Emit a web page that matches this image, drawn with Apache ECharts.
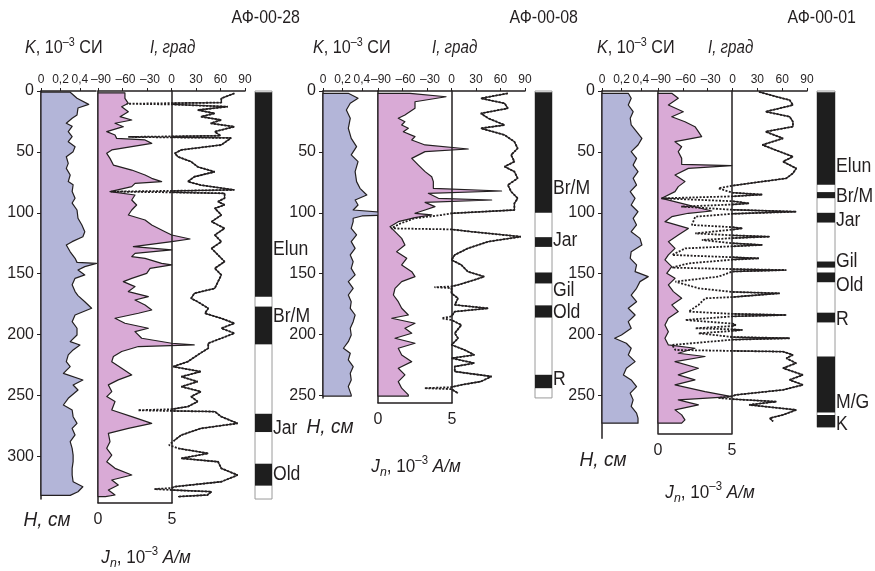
<!DOCTYPE html>
<html>
<head>
<meta charset="utf-8">
<script src="https://cdn.jsdelivr.net/npm/echarts@6/dist/echarts.min.js"></script>
<style>
html, body { margin: 0; padding: 0; background: #fff; }
#main { width: 875px; height: 571px; }
</style>
</head>
<body>
<div id="main"></div>
<script>
// ---- данные: [значение, глубина см] ----
var kTicks = [0, 0.2, 0.4];
var iTicks = [-90, -60, -30, 0, 30, 60, 90];
var jnTicks = [0, 5];
var depthTicks28 = [0, 50, 100, 150, 200, 250, 300];
var depthTicks08 = [0, 50, 100, 150, 200, 250];
var depthTicks01 = [0, 50, 100, 150, 200, 250];

// АФ-00-28
var k28 = [[0.30,1],[0.37,6],[0.49,11],[0.38,14],[0.37,19.7],[0.32,22.4],[0.26,26.5],[0.32,29],[0.28,33.4],[0.32,37.5],[0.28,41.6],[0.35,45.7],[0.33,49.8],[0.26,54],[0.28,59.4],[0.26,63.5],[0.30,69],[0.28,74.4],[0.33,77],[0.32,82.6],[0.35,88],[0.32,92],[0.37,97.7],[0.38,104.5],[0.42,110],[0.45,115.5],[0.43,119.6],[0.32,123.7],[0.26,126.4],[0.30,132],[0.35,137.4],[0.37,140.7],[0.57,141.5],[0.45,144.2],[0.38,147],[0.45,151],[0.35,153.8],[0.32,159],[0.35,164.7],[0.38,168],[0.45,173],[0.52,178.4],[0.35,183.9],[0.32,189.4],[0.37,194.8],[0.37,200.3],[0.30,205.8],[0.40,208.5],[0.33,212.6],[0.28,216.7],[0.26,222.2],[0.30,226.3],[0.23,231.8],[0.43,237.3],[0.33,241.4],[0.38,245.5],[0.28,252.3],[0.23,257.8],[0.32,261.9],[0.33,267.4],[0.37,272.9],[0.32,277],[0.35,282.4],[0.30,287.9],[0.32,293.4],[0.33,298.9],[0.33,304.3],[0.32,309.8],[0.32,315.3],[0.33,320.8],[0.43,324.9],[0.38,329],[0.30,332]];
var jn28 = [[1.82,1.5],[1.82,6],[2.05,10.1],[1.60,12.9],[2.05,17],[1.49,21.1],[2.28,23.8],[1.15,26.5],[1.71,29.3],[0.59,33.4],[1.15,36.1],[1.26,38.9],[3.18,40.2],[3.63,43],[2.28,45.7],[0.93,48.4],[0.59,51.2],[0.81,55.3],[1.04,60.8],[2.28,64.9],[3.18,69],[3.63,71.7],[4.30,74.4],[2.50,75.8],[2.28,78.5],[0.81,82.6],[2.50,85.4],[2.28,89.5],[2.61,93.6],[2.28,97.7],[2.05,101.8],[3.18,105.9],[3.63,110],[4.53,115.5],[4.98,118.2],[6.22,121.5],[4.98,123.7],[2.39,127.8],[4.98,130.5],[2.50,133.3],[2.28,136],[3.18,137.4],[4.30,141.5],[4.98,142.8],[3.52,145.6],[3.29,149.7],[2.28,153.8],[1.71,156.5],[2.50,160.6],[2.05,164.7],[3.40,168.8],[2.50,171.6],[3.18,175.7],[3.63,179.8],[2.73,182.5],[1.15,186.6],[1.82,190.7],[3.40,194.8],[2.50,197.5],[2.95,203],[4.98,207.1],[6.5,208.5],[2.73,209.8],[1.60,213.9],[1.04,218],[0.93,222.2],[1.60,227.6],[2.28,233.1],[1.37,237.2],[0.70,241.3],[0.93,246.8],[0.59,250.9],[1.15,255],[0.93,261.9],[2.28,267.4],[3.63,272.9],[2.05,277],[0.70,281.1],[0.81,287.9],[0.59,293.4],[0.93,298.9],[0.59,304.4],[1.15,309.8],[2.28,315.3],[0.93,319.4],[1.37,323.5],[0.70,327.6],[1.15,331.7],[0.5,333]];
var inc28 = [[77,1.9],[61,6],[61,9.5],[0,10],[-55,10.5],[0,11],[69,12.9],[32,15.6],[53,18.4],[36,21.1],[61,23.8],[48,26.5],[77,29.3],[53,33.4],[60,36.7],[0,37.3],[-53,37.7],[0,38.1],[73,38.5],[61,44.3],[12,48.4],[4,51.2],[8,54],[24,58],[32,62.2],[53,66.3],[28,70.4],[20,74.4],[36,77.2],[77,81.2],[0,82],[-74,82.6],[0,83.2],[65,84],[65,88],[57,90.8],[65,93.5],[53,96.3],[61,101.8],[49,107.3],[57,110],[65,112.8],[53,118.2],[61,123.7],[49,129.2],[57,134.6],[65,140.1],[53,145.6],[61,151],[57,156.5],[53,162],[28,166.1],[24,170.2],[32,173],[45,178.4],[41,182.5],[61,186.6],[77,190.7],[61,194.8],[77,198.9],[61,203],[45,207.1],[45,211.2],[32,216.7],[20,222.2],[2,226.3],[36,230.4],[12,234.5],[32,238.6],[12,242.7],[36,246.8],[24,250.9],[32,255],[20,259.1],[0,261.3],[-41,262.1],[0,262.7],[53,263.2],[61,267.4],[81,272.9],[36,277],[12,282.5],[4,286.6],[-3,290.7],[8,293.4],[45,297.5],[12,301.6],[57,304.4],[61,309.8],[81,315.3],[61,320.8],[4,324.9],[0,326],[-21,326.8],[0,327.6],[49,329],[44,331.7],[8,333]];
var pol28 = [[1,169],[177,208],[265,280],[306,324]];
var polEnd28 = 335;
var polName28 = ['Elun', 'Br/M', 'Jar', 'Old'];
var polAt28 = [130, 185, 277, 315];

// АФ-00-08
var k08 = [[0.26,1.9],[0.36,6],[0.28,10.1],[0.24,15.6],[0.28,22.4],[0.26,30.6],[0.29,38.9],[0.345,45.7],[0.29,52.5],[0.36,58],[0.33,66.2],[0.345,74.4],[0.38,79.9],[0.45,85.4],[0.33,89.5],[0.36,93.6],[0.31,97.7],[0.88,101.3],[0.40,102.6],[0.31,104.5],[0.31,107.3],[0.29,112.8],[0.345,118.2],[0.29,123.7],[0.33,129.2],[0.28,134.6],[0.31,140.1],[0.29,145.6],[0.33,151],[0.26,156.5],[0.31,162],[0.26,167.5],[0.29,173],[0.28,178.4],[0.33,183.9],[0.31,189.4],[0.28,194.8],[0.29,200.3],[0.26,205.8],[0.21,211.2],[0.28,215.3],[0.26,220.8],[0.31,226.3],[0.28,231.7],[0.29,237.2],[0.26,242.7],[0.29,249.5],[0.29,250.5]];
var jn08 = [[2.16,1.9],[4.6,4.7],[2.5,8.8],[2.5,14.2],[1.82,19.7],[1.37,22.4],[1.82,25.2],[1.6,27.9],[2.05,30.6],[1.71,33.4],[2.5,37.5],[2.28,40.2],[3.18,44.3],[6.1,47.6],[3.18,49.8],[2.28,55.3],[2.73,60.8],[3.18,66.2],[3.63,70.4],[3.74,74.4],[3.74,79.9],[8.35,82.1],[3.40,84],[4.08,88.1],[7.68,89.5],[3.18,91.4],[3.85,94.9],[3.18,97.7],[2.5,100.4],[3.63,101.7],[2.5,103.9],[1.37,107.3],[0.81,111.4],[1.15,115.5],[1.6,121],[1.82,126.4],[1.26,131.9],[1.94,137.4],[1.6,142.8],[2.28,148.3],[2.5,152.4],[1.6,156.5],[1.15,162],[1.04,167.5],[1.37,173],[1.6,178.4],[2.05,183.9],[0.93,186.6],[2.5,190.7],[1.82,194.8],[2.28,198.9],[1.15,203],[2.5,207.1],[1.37,211.2],[1.6,216.7],[2.28,222.2],[1.37,227.6],[1.82,233.1],[1.37,238.6],[1.6,244],[2.05,249.5],[2.05,250.5]];
var inc08 = [[69,1.9],[36,6],[65,10.1],[69,14.2],[36,18.4],[45,22.4],[65,27.9],[36,30.6],[65,36.1],[77,41.6],[81,47.1],[73,52.5],[77,58],[65,62.1],[77,66.2],[81,71.7],[69,77.2],[73,82.6],[81,88.1],[77,92.2],[77,97.7],[0,100.4],[-12,101.8],[-45,104.5],[-62,108.6],[-74,112.8],[0,113.6],[24,115.5],[85,119.6],[45,123.7],[20,129.2],[4,134.6],[0,138.7],[12,142.8],[20,148.3],[40,152.4],[28,155.1],[8,159.2],[0,160.5],[-21,161.1],[0,161.8],[0,166.1],[8,170.2],[4,175.6],[45,178.4],[4,181.1],[0,185],[-12,186.6],[0,188],[12,192.1],[4,198.9],[8,203],[0,208.5],[16,212.6],[28,216.7],[0,219.4],[28,223.5],[4,226.2],[4,230.3],[49,234.4],[36,238.5],[12,241.3],[0,243.2],[-33,244],[0,244.8],[8,248.1]];
var pol08 = [[1,100],[120,128],[149,158],[176,186],[233,244]];
var polEnd08 = 252;
var polName08 = ['Br/M', 'Jar', 'Gil', 'Old', 'R'];
var polAt08 = [80, 123, 164, 182, 237];

// АФ-00-01
var k01 = [[0.27,1.9],[0.30,6],[0.27,11.5],[0.32,17],[0.29,22.4],[0.30,27.9],[0.355,33.4],[0.41,38.9],[0.37,44.3],[0.30,49.8],[0.355,55.3],[0.32,60.8],[0.37,66.2],[0.32,71.7],[0.355,77.2],[0.29,82.6],[0.34,88.1],[0.30,93.6],[0.37,99.1],[0.32,104.5],[0.355,110],[0.30,115.5],[0.39,121],[0.41,126.4],[0.30,131.9],[0.29,137.4],[0.355,142.8],[0.34,148.3],[0.475,152.4],[0.39,156.5],[0.355,162],[0.30,167.5],[0.355,173],[0.27,178.4],[0.34,183.9],[0.27,189.4],[0.30,194.8],[0.20,200.3],[0.13,203],[0.25,207.1],[0.30,211.2],[0.27,216.7],[0.34,222.2],[0.25,227.6],[0.22,233.1],[0.30,237.2],[0.355,242.7],[0.29,248.1],[0.32,253.6],[0.30,259],[0.355,264.5],[0.37,268.6],[0.37,272.7]];
var jn01 = [[0.93,1.9],[1.37,6],[0.70,11.5],[1.71,17],[0.93,21.1],[1.82,25.2],[2.5,29.3],[2.73,33.4],[2.95,37.5],[1.15,41.6],[1.6,45.7],[1.37,49.8],[1.6,55.3],[1.6,60.2],[4.98,61.3],[2.05,63.5],[1.15,69],[1.82,74.4],[1.37,78.5],[1.15,82.6],[0.25,88.1],[1.6,92.2],[3.63,98.5],[2.05,100.4],[0.93,103.2],[0.47,107.3],[2.05,112.8],[1.37,118.2],[0.70,123.7],[1.15,129.2],[0.70,134.6],[0.47,138.7],[0.93,144.2],[0.59,149.7],[1.15,153.8],[0.70,159.2],[1.04,164.7],[1.6,170.2],[0.93,175.6],[1.37,181.1],[0.70,186.6],[0.47,192.1],[0.70,197.6],[0.47,203],[0.70,208.5],[2.5,211.2],[1.37,215.3],[3.18,218],[1.15,222.2],[2.73,227.6],[1.37,233.1],[2.5,237.2],[1.15,241.3],[3.18,246.8],[4.98,250.9],[1.37,253.6],[2.73,257.7],[1.15,261.8],[1.6,265.9],[1.82,270],[1.6,272.7]];
var inc01 = [[32,0.7],[53,4.7],[69,7.4],[73,11.5],[40,17],[69,21.1],[73,25.2],[73,29.3],[40,33.4],[61,38.9],[36,44.3],[57,49.8],[73,53.9],[61,58],[77,63.5],[73,67.6],[65,71.7],[20,75.8],[0,77.7],[-17,79.9],[0,83.5],[36,85],[0,86.5],[-86,88.1],[0,90.5],[20,92.2],[0,93.2],[-62,94.9],[0,97.5],[77,99.1],[0,100.8],[-45,103.2],[-49,110],[0,111.8],[12,112.8],[0,113.8],[-45,116.9],[0,118.5],[45,119.6],[0,120.8],[-37,122.3],[0,125],[36,126.4],[0,127.5],[-57,129.2],[-73,134.6],[0,136.5],[32,137.4],[0,138.5],[-53,141.5],[-73,145],[0,146.2],[65,147],[0,148.2],[-17,152.4],[-69,156.5],[-41,162],[0,165],[57,166.1],[16,168.3],[0,169.2],[-33,170.2],[-41,175.6],[-53,181.1],[0,183],[65,183.9],[0,185],[-57,188],[0,191],[4,192.1],[0,193],[-45,194.8],[0,195.7],[12,196.2],[0,197],[-41,198.9],[0,202],[69,203],[0,204.2],[-73,208.5],[-69,212.6],[0,213.4],[61,214],[73,216.7],[65,219.4],[77,223.5],[61,227.6],[85,233.1],[69,237.2],[85,241.3],[61,245.4],[4,249.5],[0,250.5],[-17,252],[0,253],[53,255],[20,257.7],[77,261.8],[61,265.9],[45,268.6],[49,271.3]];
var pol01 = [[1,77],[83,88],[100,108],[140,145],[149,157],[182,190],[218,264],[266,276]];
var polEnd01 = 276;
var polName01 = ['Elun', 'Br/M', 'Jar', 'Gil', 'Old', 'R', 'M/G', 'K'];
var polAt01 = [62, 87, 106, 140, 160, 188, 256, 274];

// ---- оформление ----
var S = 1.218;      // px на 1 см глубины
var TOP = 91;
var FONT = '"Liberation Sans", Arial, sans-serif';
var INK = '#231f20';
var K_FILL = '#b3b5d8';
var JN_FILL = '#d9aad6';

var panels = [
  { k: k28, jn: jn28, inc: inc28, pol: pol28, polEnd: polEnd28, names: polName28, at: polAt28, ticks: depthTicks28,
    x0: 41, kMax: 335, box: 98, boxMax: 338, iw: 147, polX: 255, polW: 17 },
  { k: k08, jn: jn08, inc: inc08, pol: pol08, polEnd: polEnd08, names: polName08, at: polAt08, ticks: depthTicks08,
    x0: 323, kMax: 252, box: 378, boxMax: 256, iw: 147, polX: 535, polW: 17 },
  { k: k01, jn: jn01, inc: inc01, pol: pol01, polEnd: polEnd01, names: polName01, at: polAt01, ticks: depthTicks01,
    x0: 602, kMax: 285, box: 658, boxMax: 281, iw: 149, polX: 817, polW: 18 }
];

var lineAx = { show: true, onZero: false, lineStyle: { color: INK, width: 1.5 } };

function profile(xi, yi, pts, fill) {
  return {
    type: 'custom', xAxisIndex: xi, yAxisIndex: yi, data: pts, clip: false, silent: true,
    renderItem: function (params, api) {
      if (params.dataIndex !== 0) return null;
      var poly = [api.coord([0, pts[0][1]])];
      for (var i = 0; i < pts.length; i++) poly.push(api.coord(pts[i]));
      poly.push(api.coord([0, pts[pts.length - 1][1]]));
      return { type: 'polygon', shape: { points: poly },
        style: { fill: fill, stroke: INK, lineWidth: 1.2, lineJoin: 'round' } };
    }
  };
}

var grids = [], xAxes = [], yAxes = [], series = [];

panels.forEach(function (p) {
  var g = grids.length, xi = xAxes.length, yi = yAxes.length;
  grids.push({ left: p.x0, top: TOP, width: 55, height: p.kMax * S });
  grids.push({ left: p.box, top: TOP, width: 74, height: p.boxMax * S });
  grids.push({ left: p.box, top: TOP, width: p.iw, height: p.boxMax * S });
  grids.push({ left: p.polX, top: TOP, width: p.polW, height: p.polEnd * S });

  // K
  xAxes.push({ gridIndex: g, type: 'value', position: 'top', min: 0, max: 0.565,
    axisLine: lineAx, splitLine: { show: false },
    axisTick: { customValues: kTicks, length: 3, lineStyle: { color: INK } },
    axisLabel: { customValues: kTicks, margin: 5, color: INK, fontFamily: FONT, fontSize: 12,
      formatter: function (v) { return String(v).replace('.', ','); } } });
  // Jn
  xAxes.push({ gridIndex: g + 1, type: 'value', position: 'bottom', min: 0, max: 5,
    axisLine: lineAx, splitLine: { show: false }, axisTick: { show: false },
    axisLabel: { customValues: jnTicks, margin: 9, color: INK, fontFamily: FONT, fontSize: 16 } });
  // I
  xAxes.push({ gridIndex: g + 2, type: 'value', position: 'top', min: -90, max: 90,
    axisLine: lineAx, splitLine: { show: false },
    axisTick: { customValues: iTicks, length: 3, lineStyle: { color: INK } },
    axisLabel: { customValues: iTicks, margin: 5, color: INK, fontFamily: FONT, fontSize: 12,
      formatter: function (v) { return v < 0 ? '{n|–' + (-v) + '}' : String(v); },
      rich: { n: { padding: [0, 0, 0, 6], color: INK, fontFamily: FONT, fontSize: 12 } } } });
  xAxes.push({ gridIndex: g + 3, type: 'value', min: 0, max: 1, show: false });

  yAxes.push({ gridIndex: g, type: 'value', inverse: true, min: 0, max: p.kMax, position: 'left',
    axisLine: lineAx, splitLine: { show: false },
    axisTick: { customValues: p.ticks, length: 4, lineStyle: { color: INK } },
    axisLabel: { customValues: p.ticks, margin: 7, color: INK, fontFamily: FONT, fontSize: 16 } });
  yAxes.push({ gridIndex: g + 1, type: 'value', inverse: true, min: 0, max: p.boxMax, position: 'left',
    axisLine: lineAx, axisTick: { show: false }, axisLabel: { show: false }, splitLine: { show: false } });
  yAxes.push({ gridIndex: g + 1, type: 'value', inverse: true, min: 0, max: p.boxMax, position: 'right', z: 3,
    axisLine: lineAx, axisTick: { show: false }, axisLabel: { show: false }, splitLine: { show: false } });
  yAxes.push({ gridIndex: g + 2, type: 'value', inverse: true, min: 0, max: p.boxMax, show: false });
  yAxes.push({ gridIndex: g + 3, type: 'value', inverse: true, min: 0, max: p.polEnd, show: false });

  series.push(profile(xi, yi, p.k, K_FILL));
  series.push(profile(xi + 1, yi + 1, p.jn, JN_FILL));
  // I: весь профиль пунктиром, положительные участки сплошной линией поверх
  series.push({ type: 'line', xAxisIndex: xi + 2, yAxisIndex: yi + 3, data: p.inc,
    symbol: 'none', silent: true, clip: false, z: 3,
    lineStyle: { color: INK, width: 1.8, type: [2, 1.5] } });
  series.push({ type: 'line', xAxisIndex: xi + 2, yAxisIndex: yi + 3, connectNulls: false,
    data: p.inc.map(function (d) { return d[0] >= 0 ? d : ['-', '-']; }),
    symbol: 'none', silent: true, clip: false, z: 4,
    lineStyle: { color: INK, width: 1.3 } });
  // колонка полярности
  var polData = [[0, p.polEnd, 0]].concat(p.pol.map(function (s) { return [s[0], s[1], 1]; }));
  series.push({ type: 'custom', xAxisIndex: xi + 3, yAxisIndex: yi + 4, data: polData, silent: true,
    renderItem: function (params, api) {
      var a = api.coord([0, api.value(0)]), b = api.coord([1, api.value(1)]);
      var black = api.value(2) === 1;
      return { type: 'rect', shape: { x: a[0], y: a[1], width: b[0] - a[0], height: b[1] - a[1] },
        style: black ? { fill: '#1e1e1e' } : { fill: '#fff', stroke: '#9a9a9a', lineWidth: 1 } };
    } });
  var names = p.names;
  series.push({ type: 'custom', xAxisIndex: xi + 3, yAxisIndex: yi + 4, silent: true,
    data: p.at.map(function (d, i) { return [i, d]; }),
    renderItem: function (params, api) {
      var c = api.coord([1, api.value(1)]);
      return { type: 'text', x: c[0] + 1, y: c[1], scaleX: 0.88,
        style: { text: names[api.value(0)], fill: INK, font: '20px ' + FONT,
          textAlign: 'left', textVerticalAlign: 'middle' } };
    } });
});

// ---- подписи ----
var R = function (size, extra) {
  var o = { fontFamily: FONT, fontSize: size, color: INK, fill: INK };
  for (var k in extra) o[k] = extra[k];
  return o;
};
var richK = {
  i: R(18, { fontStyle: 'italic', lineHeight: 22 }),
  r: R(18, { lineHeight: 22 }),
  s: R(12, { lineHeight: 12, verticalAlign: 'top' })
};
var richJ = {
  i: R(18, { fontStyle: 'italic', lineHeight: 24 }),
  r: R(18, { lineHeight: 24 }),
  s: R(12, { lineHeight: 12, verticalAlign: 'top' }),
  b: R(13, { fontStyle: 'italic', lineHeight: 12, verticalAlign: 'bottom' })
};

function txt(x, y, text, align, font, sx, rich) {
  var st = { text: text, fill: INK, font: font || ('18px ' + FONT), textAlign: align, textVerticalAlign: 'middle' };
  if (rich) st.rich = rich;
  return { type: 'text', x: x, y: y, scaleX: sx || 1, silent: true, style: st };
}

var graphic = [
  txt(300, 18, 'АФ-00-28', 'right', '19px ' + FONT, 0.84),
  txt(578, 18, 'АФ-00-08', 'right', '19px ' + FONT, 0.84),
  txt(856, 18, 'АФ-00-01', 'right', '19px ' + FONT, 0.84)
];
[[25, 150], [313, 432], [597, 708]].forEach(function (x) {
  graphic.push(txt(x[0], 48, '{i|K}{r|, 10}{s|–3}{r| СИ}', 'left', null, 0.9, richK));
  graphic.push(txt(x[1], 48, 'I, град', 'left', 'italic 18px ' + FONT, 0.84));
});
[[47, 520], [330, 427], [603, 460]].forEach(function (p) {
  graphic.push(txt(p[0], p[1], 'H, см', 'center', 'italic 20px ' + FONT, 0.95));
});
[[146, 558], [416, 467], [710, 493]].forEach(function (p) {
  graphic.push(txt(p[0], p[1], '{i|J}{b|n}{r|, 10}{s|–3}{i| A/м}', 'center', null, 0.95, richJ));
});

var chart = echarts.init(document.getElementById('main'));
chart.setOption({
  animation: false,
  backgroundColor: '#fff',
  grid: grids,
  xAxis: xAxes,
  yAxis: yAxes,
  series: series,
  graphic: graphic
});
</script>
</body>
</html>
